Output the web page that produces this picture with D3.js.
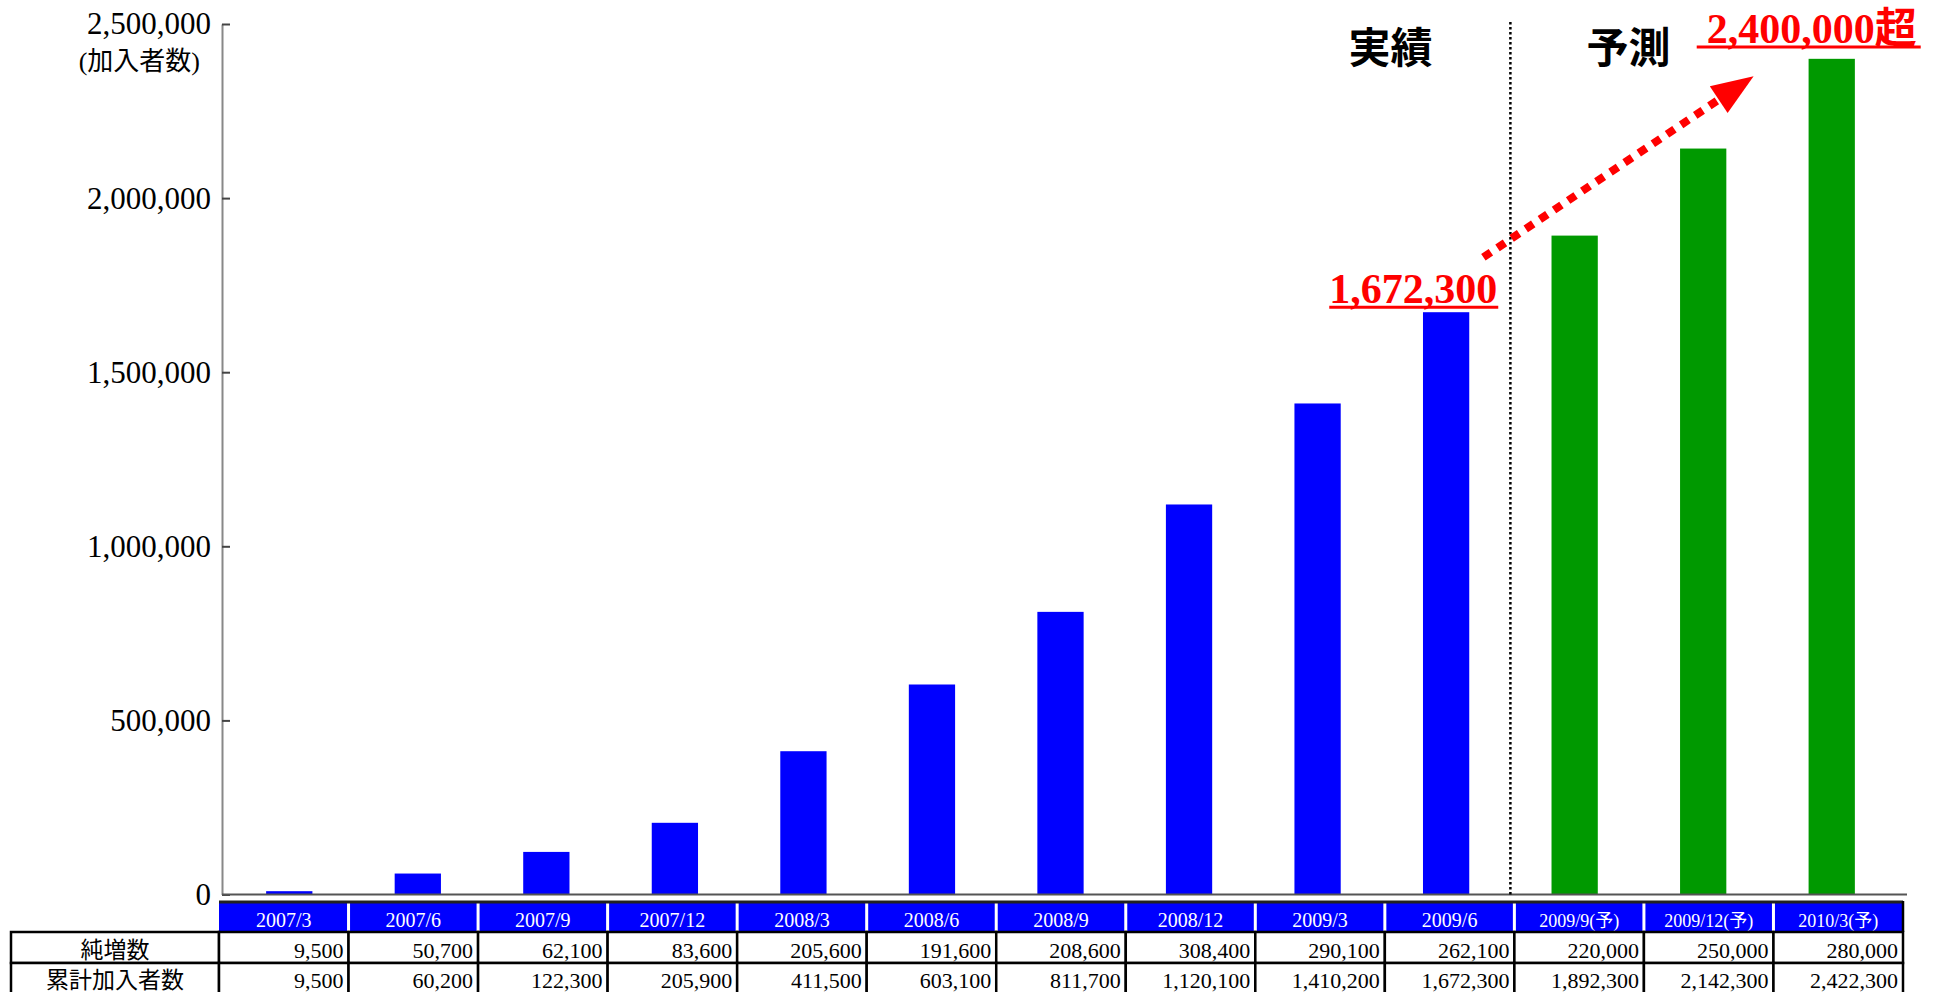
<!DOCTYPE html>
<html>
<head>
<meta charset="utf-8">
<script src="https://cdn.jsdelivr.net/npm/d3@7"></script>
<style>
  body { margin: 0; background: #fff; }
</style>
</head>
<body>
<svg id="chart" width="1935" height="992"></svg>
<script>
// quarters (last three are forecasts)
const categories = ["2007/3", "2007/6", "2007/9", "2007/12", "2008/3", "2008/6", "2008/9",
  "2008/12", "2009/3", "2009/6", "2009/9(予)", "2009/12(予)", "2010/3(予)"];
const barValues = [9500, 60200, 122300, 205900, 411500, 603100, 811700, 1120100, 1410200,
  1672300, 1892300, 2142300, 2400000];
const forecastStart = 10;
const netAdds = [9500, 50700, 62100, 83600, 205600, 191600, 208600, 308400, 290100, 262100,
  220000, 250000, 280000];
const cumulative = [9500, 60200, 122300, 205900, 411500, 603100, 811700, 1120100, 1410200,
  1672300, 1892300, 2142300, 2422300];
const yTicks = [0, 500000, 1000000, 1500000, 2000000, 2500000];
const rowLabels = ["純増数", "累計加入者数"];
const unitLabel = "(加入者数)";
const actualLabel = "実績";
const forecastLabel = "予測";
const lastActualLabel = "1,672,300";
const forecastNote = "2,400,000超";

const serif = '"Liberation Serif", "Times New Roman", "Noto Sans CJK JP", serif';
const gothic = '"Noto Sans CJK JP", sans-serif';

const svg = d3.select("#chart");

const y = d3.scaleLinear().domain([0, 2500000]).range([894.5, 24]);
const x = d3.scaleBand().domain(categories).range([225, 1896])
  .paddingInner(0.64).paddingOuter(0.32);
const xt = d3.scaleBand().domain(categories).range([219, 1903]); // table columns

// bars
svg.append("g").selectAll("rect")
  .data(categories)
  .join("rect")
  .attr("x", d => x(d))
  .attr("width", x.bandwidth())
  .attr("y", (d, i) => y(barValues[i]))
  .attr("height", (d, i) => y(0) - y(barValues[i]))
  .attr("fill", (d, i) => i >= forecastStart ? "#009900" : "#0000ff");

// y axis, ticks point inward
const yAxis = svg.append("g")
  .attr("transform", "translate(222,0)")
  .call(d3.axisLeft(y).tickValues(yTicks).tickFormat(d3.format(","))
    .tickSizeInner(-8).tickSizeOuter(0).tickPadding(11));
yAxis.select(".domain").attr("stroke", "#888").attr("stroke-width", 2);
yAxis.selectAll(".tick line").attr("stroke", "#444").attr("stroke-width", 2);
yAxis.selectAll(".tick text")
  .attr("font-family", serif).attr("font-size", 31).attr("fill", "#000");

// baseline
svg.append("line")
  .attr("x1", 222).attr("x2", 1907)
  .attr("y1", y(0)).attr("y2", y(0))
  .attr("stroke", "#555").attr("stroke-width", 2);

svg.append("text")
  .attr("x", 200).attr("y", 70)
  .attr("text-anchor", "end")
  .attr("font-family", serif).attr("font-size", 26)
  .text(unitLabel);

// actual / forecast separator
const lastActual = categories[forecastStart - 1];
const firstForecast = categories[forecastStart];
const sepX = (x(lastActual) + x.bandwidth() + x(firstForecast)) / 2;
svg.append("line")
  .attr("x1", sepX).attr("x2", sepX)
  .attr("y1", y(2500000) - 2).attr("y2", y(0))
  .attr("stroke", "#000").attr("stroke-width", 2.5)
  .attr("stroke-dasharray", "2.5,2.5");

svg.append("text")
  .attr("x", sepX - 120).attr("y", 63)
  .attr("text-anchor", "middle")
  .attr("font-family", gothic).attr("font-weight", "bold").attr("font-size", 42)
  .text(actualLabel);
svg.append("text")
  .attr("x", sepX + 118).attr("y", 63)
  .attr("text-anchor", "middle")
  .attr("font-family", gothic).attr("font-weight", "bold").attr("font-size", 42)
  .text(forecastLabel);

// red underlined callouts
function callout(tx, ty, str, extraLeft, extraRight) {
  const t = svg.append("text")
    .attr("x", tx).attr("y", ty)
    .attr("text-anchor", "end")
    .attr("font-family", serif).attr("font-weight", "bold").attr("font-size", 42)
    .attr("fill", "#ff0000")
    .text(str);
  const b = t.node().getBBox();
  svg.append("line")
    .attr("x1", b.x - extraLeft).attr("x2", b.x + b.width + extraRight)
    .attr("y1", ty + 4).attr("y2", ty + 4)
    .attr("stroke", "#ff0000").attr("stroke-width", 3);
}
callout(x(lastActual) + x.bandwidth() + 28, y(barValues[forecastStart - 1]) - 9, lastActualLabel, 0, 1);
const lastCat = categories[categories.length - 1];
callout(x(lastCat) + x.bandwidth() / 2 + 85, 43, forecastNote, 10, 4);

// dotted red arrow
const sx = sepX - 27, sy = y(1830000);
const tx = x(lastCat) - 55, ty = y(2350000);
const len = Math.hypot(tx - sx, ty - sy);
const ux = (tx - sx) / len, uy = (ty - sy) / len;
const headL = 42, headW = 16;
const bx = tx - ux * headL, by = ty - uy * headL;
svg.append("line")
  .attr("x1", sx).attr("y1", sy).attr("x2", bx).attr("y2", by)
  .attr("stroke", "#ff0000").attr("stroke-width", 8)
  .attr("stroke-dasharray", "9,8");
svg.append("polygon")
  .attr("points", [[tx, ty], [bx - uy * headW, by + ux * headW], [bx + uy * headW, by - ux * headW]]
    .map(p => p.join(",")).join(" "))
  .attr("fill", "#ff0000");

// data table
const table = svg.append("g");
const headTop = 903, headH = 29;
table.selectAll(".hcell")
  .data(categories)
  .join("rect")
  .attr("class", "hcell")
  .attr("x", d => xt(d)).attr("width", xt.bandwidth())
  .attr("y", headTop).attr("height", headH)
  .attr("fill", "#0000ff");
table.selectAll(".hdiv")
  .data(categories.slice(1))
  .join("line")
  .attr("class", "hdiv")
  .attr("x1", d => xt(d)).attr("x2", d => xt(d))
  .attr("y1", headTop).attr("y2", headTop + headH)
  .attr("stroke", "#fff").attr("stroke-width", 3);
table.append("line")
  .attr("x1", xt.range()[0]).attr("x2", xt.range()[1])
  .attr("y1", headTop - 1).attr("y2", headTop - 1)
  .attr("stroke", "#222").attr("stroke-width", 3);
table.append("line")
  .attr("x1", xt.range()[1]).attr("x2", xt.range()[1])
  .attr("y1", headTop - 2).attr("y2", headTop + headH)
  .attr("stroke", "#000").attr("stroke-width", 2.5);
table.selectAll(".htext")
  .data(categories)
  .join("text")
  .attr("class", "htext")
  .attr("x", d => xt(d) + xt.bandwidth() / 2)
  .attr("y", headTop + headH - 5)
  .attr("text-anchor", "middle")
  .attr("font-family", serif)
  .attr("font-size", (d, i) => i >= forecastStart ? 18 : 20)
  .attr("fill", "#fff")
  .text(d => d);

const rows = [netAdds, cumulative];
const rowTop = 932, rowH = 31;
rows.forEach((vals, r) => {
  const top = rowTop + r * rowH;
  const textY = top + rowH - (r === 0 ? 5 : 6);
  const g = table.append("g");
  g.append("rect")
    .attr("x", 11).attr("y", top).attr("width", 219 - 11).attr("height", rowH)
    .attr("fill", "#fff").attr("stroke", "#000").attr("stroke-width", 2.5);
  g.selectAll("rect.cell")
    .data(categories)
    .join("rect")
    .attr("class", "cell")
    .attr("x", d => xt(d)).attr("width", xt.bandwidth())
    .attr("y", top).attr("height", rowH)
    .attr("fill", "#fff").attr("stroke", "#000").attr("stroke-width", 2.5);
  g.append("text")
    .attr("x", 115).attr("y", textY)
    .attr("text-anchor", "middle")
    .attr("font-family", gothic).attr("font-size", 23)
    .text(rowLabels[r]);
  g.selectAll("text.val")
    .data(categories)
    .join("text")
    .attr("class", "val")
    .attr("x", d => xt(d) + xt.bandwidth() - 5)
    .attr("y", textY)
    .attr("text-anchor", "end")
    .attr("font-family", serif).attr("font-size", 22)
    .text((d, i) => d3.format(",")(vals[i]));
});
</script>
</body>
</html>
